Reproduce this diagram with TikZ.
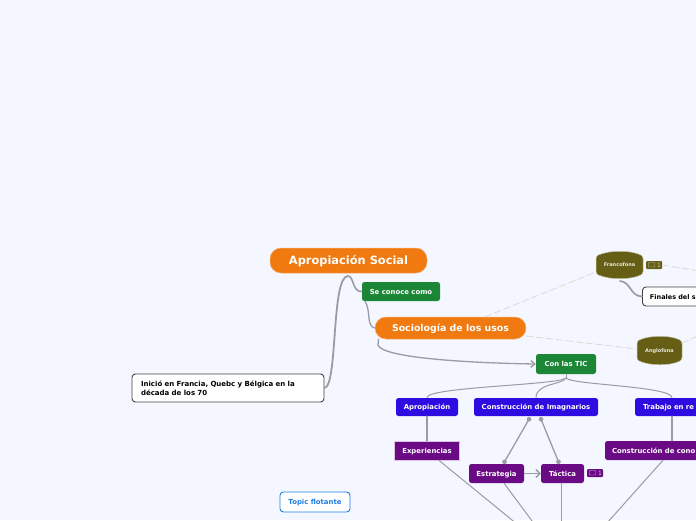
\documentclass[tikz,border=0pt]{standalone}
\usepackage{fontspec}
\setmainfont{DejaVu Sans}
\definecolor{mapback}{HTML}{F4F7FF}
\definecolor{rootorange}{HTML}{F07A10}
\definecolor{usegreen}{HTML}{1B8636}
\definecolor{mainblue}{HTML}{2E0BE0}
\definecolor{tacticpurple}{HTML}{6A0A85}
\definecolor{langolive}{HTML}{665E14}
\definecolor{linkgrey}{HTML}{9A9BA3}
\definecolor{relbeige}{HTML}{DDD8D4}
\definecolor{floatblue}{HTML}{1E7FE0}
\usetikzlibrary{arrows.meta}

\begin{document}
\begin{tikzpicture}[
  x=1pt,
  y=-1pt,
  line join=round,
  line cap=round,
  topicbox/.style={anchor=center,inner sep=0pt,font=\bfseries,text=white,rounded corners=2.5pt},
  rootbox/.style={topicbox,fill=rootorange,draw=rootorange!60,line width=0.5pt,rounded corners=11pt},
  smalltext/.style={font=\bfseries\fontsize{6.9}{8}\selectfont,text height=5pt,text depth=0pt},
  greenbox/.style={topicbox,fill=usegreen,smalltext},
  bluebox/.style={topicbox,fill=mainblue,smalltext},
  purplebox/.style={topicbox,fill=tacticpurple,smalltext},
  notebox/.style={topicbox,fill=white,draw=black!75,line width=0.9pt,text=black,font=\bfseries\fontsize{7}{9}\selectfont,rounded corners=3.5pt},
  langtext/.style={inner sep=0pt,text=white!85!langolive,font=\bfseries\fontsize{5}{6}\selectfont},
  langshape/.style={fill=langolive,draw=langolive!35,line width=0.5pt,rounded corners=2.5pt},
  badge/.style={inner sep=0pt,minimum width=16pt,minimum height=8pt,text width=14pt,rounded corners=1pt,text=white!80!black,font=\fontsize{6}{7}\selectfont,align=right},
  link/.style={draw=linkgrey,line width=1.3pt},
  thinlink/.style={draw=linkgrey,line width=1pt},
  rel/.style={draw=relbeige,line width=0.8pt,dash pattern=on 7pt off 3pt},
  linkdot/.style={fill=linkgrey}
]
  \useasboundingbox (0,0) rectangle (696,520);
  \clip (0,0) rectangle (696,520);
  \fill[mapback] (0,0) rectangle (696,520);

  % Off-page end points of the converging lines.
  \coordinate (hubleft) at (561,560);
  \coordinate (hubright) at (574,560);
  \coordinate (relfr) at (700,271);
  \coordinate (relan) at (700,335);

  % Olive barrel shapes, text comes later.
  \path[langshape] (596,256) .. controls (610,250) and (630,250) .. (643,256) -- (643,274) .. controls (630,280) and (610,280) .. (596,274) -- cycle;
  \path[langshape] (637,341) .. controls (650,335) and (670,335) .. (682,341) -- (682,360) .. controls (670,366) and (650,366) .. (637,360) -- cycle;

  % Topics.
  \node[rootbox,minimum width=157pt,minimum height=25pt,font=\bfseries\fontsize{11.4}{13}\selectfont,text height=8.4pt,text depth=0pt] (root) at (348.5,260.5) {Apropiación Social};
  \node[greenbox,minimum width=78pt,minimum height=19pt] (seconoce) at (401,291.5) {Se conoce como};
  \node[rootbox,minimum width=151pt,minimum height=22pt,font=\bfseries\fontsize{9.4}{11}\selectfont,text height=7pt,text depth=0pt] (socio) at (450.5,328) {Sociología de los usos};
  \node[greenbox,minimum width=60pt,minimum height=20pt] (tic) at (566,364) {Con las TIC};
  \node[langtext] (franco) at (619.5,265) {Francofona};
  \node[langtext] (anglo) at (659.5,351) {Anglofona};
  \node[notebox,minimum width=192pt,minimum height=28pt,text width=174pt,align=left] (inicio) at (228,388) {Inició en Francia, Quebc y Bélgica en la\\década de los 70};
  \node[notebox,anchor=west,minimum width=70pt,minimum height=19pt,text width=55pt,align=left,font=\bfseries\fontsize{6.5}{8}\selectfont,text height=5pt,text depth=0pt] (finales) at (642,296.5) {Finales del s};

  \node[bluebox,minimum width=62pt,minimum height=18pt] (apro) at (427,407) {Apropiación};
  \node[bluebox,minimum width=124pt,minimum height=18pt] (imag) at (536,407) {Construcción de Imagnarios};
  \node[bluebox,minimum width=74pt,minimum height=18pt,text width=58pt,align=left] (trabajo) at (672,407) {Trabajo en re};

  \node[purplebox,minimum width=65pt,minimum height=19pt,draw=tacticpurple!25,line width=0.8pt,rounded corners=0pt] (exper) at (427,450.5) {Experiencias};
  \node[purplebox,minimum width=110pt,minimum height=19pt,text width=96pt,align=left] (conoc) at (660,450.5) {Construcción de cono};
  \node[purplebox,minimum width=55pt,minimum height=19pt] (estra) at (496.5,473.5) {Estrategia};
  \node[purplebox,minimum width=43pt,minimum height=19pt] (tactica) at (562.5,473.5) {Táctica};

  \node[topicbox,fill=white,draw=floatblue,line width=0.9pt,text=floatblue,minimum width=70pt,minimum height=20pt,rounded corners=3.5pt,smalltext] (flotante) at (315,502) {Topic flotante};

  % Comment badges.
  \node[badge,fill=langolive] (frbadge) at (654,265) {1};
  \node[badge,fill=tacticpurple] (tabadge) at (595,473) {1};
  \foreach \b in {frbadge,tabadge} {
    \draw[white!75!black,line width=0.4pt,rounded corners=0.5pt] ([xshift=-5.5pt]\b.center) ++(0,-2.5) rectangle ++(6,4.5);
  }

  % Curved branches.
  \draw[link,line width=1.8pt] (inicio.east) .. controls (338,386) and (331,276) .. (348,276);
  \draw[link,line width=1.6pt] (348,276) .. controls (354,276) and (352,292) .. (seconoce.west);
  \draw[link] ([xshift=-36pt]seconoce.south) .. controls (371,310) and (366,326) .. (socio.west);
  \draw[link,-{Straight Barb[length=4pt,width=7pt]}] ([xshift=-72pt]socio.south) -- (378,345) .. controls (382,358) and (470,363) .. (tic.west);
  \draw[link,line width=1.7pt] (620,281) .. controls (631,282) and (630,296) .. (finales.west);

  \draw[thinlink] (tic.south) -- (566,378);
  \draw[thinlink] (566,378) .. controls (560,385) and (425,387) .. (apro.north);
  \draw[thinlink] (566,378) .. controls (562,385) and (536,383) .. (imag.north);
  \draw[thinlink] (566,378) .. controls (572,385) and (672,386) .. (trabajo.north);

  % Straight links below the blue topics.
  \draw[link] (apro.south) -- (exper.north);
  \draw[link] (trabajo.south) -- ([xshift=12pt]conoc.north);
  \coordinate (dotl) at ([xshift=-7pt,yshift=-3pt]imag.south);
  \coordinate (dotr) at ([xshift=5pt,yshift=-3pt]imag.south);
  \coordinate (dote) at ([xshift=8pt,yshift=2pt]estra.north);
  \coordinate (dott) at ([xshift=-4pt,yshift=2pt]tactica.north);
  \draw[link] (dotl) -- (dote);
  \draw[link] (dotr) -- (dott);
  \foreach \p in {dotl,dotr,dote,dott} {
    \fill[linkdot] (\p) circle[radius=2.3pt];
  }
  \draw[link,-{Straight Barb[length=4pt,width=8pt]}] (estra.east) -- (tactica.west);

  \draw[thinlink] ([xshift=12pt]exper.south) -- (hubleft);
  \draw[thinlink] ([xshift=7.5pt]estra.south) -- (hubleft);
  \draw[thinlink] ([xshift=-1.5pt]tactica.south) -- (hubleft);
  \draw[thinlink] ([xshift=3pt]conoc.south) -- (hubright);

  % Dashed relations.
  \draw[rel] ([xshift=34.5pt]socio.north) -- (596,272);
  \draw[rel] (socio.east) ++(0,8) -- (637,349);
  \draw[rel] (frbadge.east) -- (relfr);
  \draw[rel] (682,343) -- (relan);
\end{tikzpicture}
\end{document}
